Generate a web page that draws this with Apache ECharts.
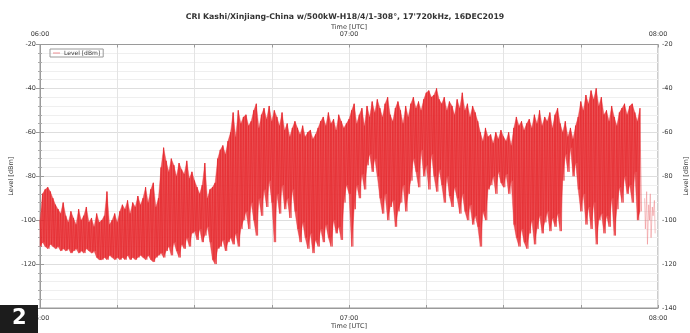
<!DOCTYPE html>
<html>
<head>
<meta charset="utf-8">
<script src="https://cdn.jsdelivr.net/npm/echarts@6/dist/echarts.min.js"></script>
<style>
  html, body { margin: 0; padding: 0; background: #fff; }
  #chart { width: 690px; height: 333px; }
</style>
</head>
<body>
<div id="chart"></div>
<script>
  // minutes after 06:00 UTC, one reading pair every half minute
  const binMinutes = 0.5;
  const timeTicks = [0, 60, 120];
  const timeLabels = ['06:00', '07:00', '08:00'];
  const levelTicks = [-140, -120, -100, -80, -60, -40, -20];

  // upper edge of the trace per half minute (dBm)
  const levelHigh = [
    -100, -88, -86, -85, -87, -90, -93, -95, -97, -92,
    -98, -101, -96, -99, -102, -95, -100, -98, -94, -101,
    -99, -103, -97, -101, -100, -98, -87, -102, -100, -97,
    -101, -96, -93, -95, -91, -97, -92, -94, -89, -93,
    -90, -85, -92, -86, -83, -94, -90, -76, -67, -73,
    -78, -72, -75, -80, -74, -77, -79, -73, -81, -78,
    -82, -85, -88, -84, -74, -90, -86, -85, -83, -72,
    -68, -66, -70, -64, -60, -51, -62, -50, -56, -53,
    -52, -57, -55, -50, -47, -58, -52, -49, -54, -48,
    -55, -50, -53, -57, -51, -59, -56, -62, -58, -55,
    -58, -61, -57, -62, -60, -59, -63, -61, -58, -55,
    -53, -57, -51, -56, -54, -59, -52, -55, -58, -56,
    -54, -50, -47, -56, -52, -49, -57, -48, -53, -46,
    -51, -45, -49, -53, -47, -44, -52, -55, -49, -46,
    -50, -56, -48, -53, -47, -44, -49, -46, -50, -45,
    -42, -41, -44, -43, -40, -45, -47, -44, -50, -46,
    -48, -52, -45, -49, -42, -50, -47, -53, -48, -51,
    -55, -60, -64, -58, -62, -61, -65, -60, -63, -59,
    -62, -64, -60, -66, -58, -53, -57, -55, -59, -56,
    -54, -58, -52, -56, -50, -57, -53, -55, -51, -58,
    -52, -49, -56, -60, -55, -62, -58, -63, -57, -53,
    -46, -50, -43, -47, -41, -45, -40, -48, -44, -52,
    -50, -55, -48, -53, -57, -51, -49, -47, -52, -48,
    -47, -51, -55, -49
  ];

  // lower edge of the trace per half minute (dBm)
  const levelLow = [
    -112, -110, -112, -113, -111, -112, -113, -112, -114, -113,
    -114, -113, -115, -114, -113, -115, -114, -115, -113, -114,
    -115, -114, -117, -118, -118, -117, -118, -116, -117, -118,
    -117, -118, -117, -118, -116, -118, -117, -118, -117, -116,
    -117, -118, -116, -118, -119, -117, -116, -115, -117, -114,
    -112, -116, -110, -114, -117, -111, -113, -108, -112, -106,
    -105, -109, -104, -110, -107, -103, -110, -118, -120, -113,
    -112, -109, -114, -110, -108, -111, -106, -112, -104, -100,
    -96, -104, -92, -100, -107, -90, -98, -86, -94, -82,
    -92, -110, -88, -97, -84, -95, -90, -99, -86, -96,
    -104, -110, -101, -108, -113, -106, -115, -109, -112, -104,
    -110, -102, -108, -112, -100, -106, -103, -109, -92, -84,
    -88, -112, -95, -84, -90, -79, -86, -75, -70, -78,
    -72, -80, -90, -97, -88, -100, -94, -91, -103, -96,
    -92, -84, -96, -88, -82, -72, -78, -85, -68, -80,
    -75, -86, -70, -80, -87, -77, -84, -92, -80, -89,
    -94, -85, -90, -97, -88, -96, -100, -93, -102, -98,
    -103, -112, -96, -100, -86, -84, -80, -88, -78, -83,
    -85, -79, -88, -82, -102, -108, -112, -104, -110, -113,
    -106, -100, -111, -104, -98, -106, -101, -96, -105, -99,
    -103, -97, -105, -82, -70, -78, -67, -80, -74, -86,
    -96, -88, -102, -94, -104, -92, -111, -100, -97, -106,
    -98, -103, -90, -107, -95, -85, -92, -80, -88, -84,
    -92, -78, -100, -96
  ];

  // sparse readings after the carrier drops out
  const tailTimes = [117.4, 117.8, 118.2, 118.5, 118.9, 119.3];
  const tailHigh = [-90, -87, -93, -88, -94, -91];
  const tailLow = [-104, -111, -100, -108, -98, -106];

  // zigzag through the readings, and one band segment per pair of neighbours
  let trace = [];
  let band = [];
  for (let i = 0; i < levelHigh.length; i++) {
    let t = i * binMinutes;
    trace.push([t, levelHigh[i]]);
    trace.push([t + binMinutes / 2, levelLow[i]]);
    if (i < levelHigh.length - 1) {
      band.push([t, levelHigh[i], levelLow[i], levelHigh[i + 1], levelLow[i + 1]]);
    }
  }
  let tail = [];
  for (let i = 0; i < tailTimes.length; i++) {
    tail.push([tailTimes[i], tailHigh[i]]);
    tail.push([tailTimes[i] + 0.15, tailLow[i]]);
  }

  function timeLabel (v) {
    let k = timeTicks.indexOf(v);
    return k >= 0 ? timeLabels[k] : '';
  }

  const red = '#e4252b';
  const txt = '#3a3a3a';
  const font = 'DejaVu Sans';

  let myChart = echarts.init(document.getElementById('chart'));
  let xBase = {
    type: 'value',
    min: 0,
    max: 120,
    interval: 15,
    name: 'Time [UTC]',
    nameLocation: 'middle',
    nameMoveOverlap: false,
    nameTextStyle: { color: txt, fontSize: 6.5, fontFamily: font },
    axisLine: { show: true, lineStyle: { color: '#9a9a9a', width: 1 } },
    axisTick: { show: true, inside: true, length: 3, lineStyle: { color: '#9a9a9a' } },
    axisLabel: { color: txt, fontSize: 6.5, fontFamily: font, formatter: timeLabel, showMinLabel: true, showMaxLabel: true }
  };
  let yBase = {
    type: 'value',
    min: levelTicks[0],
    max: levelTicks[levelTicks.length - 1],
    interval: 20,
    name: 'Level [dBm]',
    nameLocation: 'middle',
    nameRotate: 90,
    nameMoveOverlap: false,
    nameTextStyle: { color: txt, fontSize: 6.5, fontFamily: font },
    axisLine: { show: true, lineStyle: { color: '#9a9a9a', width: 1 } },
    axisTick: { show: true, inside: true, length: 4, lineStyle: { color: '#9a9a9a' } },
    minorTick: { show: true, splitNumber: 5, length: 2, lineStyle: { color: '#aaa' } },
    axisLabel: { color: txt, fontSize: 6.5, fontFamily: font, margin: 4 }
  };

  myChart.setOption({
    animation: false,
    backgroundColor: '#fff',
    title: {
      text: 'CRI Kashi/Xinjiang-China w/500kW-H18/4/1-308°, 17\'720kHz, 16DEC2019',
      left: 'center',
      top: 8,
      textStyle: { color: '#333', fontSize: 7.8, fontWeight: 'bold', fontFamily: font }
    },
    legend: {
      data: ['Level [dBm]'],
      left: 50,
      top: 49,
      orient: 'vertical',
      borderColor: '#9a9a9a',
      borderWidth: 1,
      padding: [1, 3, 1, 3],
      itemWidth: 7,
      itemHeight: 2,
      itemGap: 4,
      icon: 'rect',
      itemStyle: { color: 'rgba(228,37,43,0.25)' },
      textStyle: { color: txt, fontSize: 6, fontFamily: font, padding: [0, 0, 0, -1] }
    },
    grid: {
      left: 40,
      right: 32,
      top: 44.5,
      bottom: 25,
      containLabel: false,
      outerBoundsMode: 'none',
      show: true,
      borderColor: '#9a9a9a',
      borderWidth: 1
    },
    xAxis: [
      Object.assign({}, xBase, {
        position: 'bottom',
        nameGap: 15,
        axisLabel: Object.assign({}, xBase.axisLabel, { margin: 7 }),
        splitLine: { show: true, lineStyle: { color: '#e4e4e4', width: 1 } }
      }),
      Object.assign({}, xBase, {
        position: 'top',
        nameGap: 14,
        axisLabel: Object.assign({}, xBase.axisLabel, { margin: 7 }),
        splitLine: { show: false }
      })
    ],
    yAxis: [
      Object.assign({}, yBase, {
        position: 'left',
        nameGap: 25,
        splitLine: { show: true, lineStyle: { color: '#dedede', width: 1 } },
        minorSplitLine: { show: true, lineStyle: { color: '#efefef', width: 1 } }
      }),
      Object.assign({}, yBase, {
        position: 'right',
        nameGap: 25,
        splitLine: { show: false }
      })
    ],
    series: [
      {
        name: 'Level [dBm]',
        type: 'custom',
        data: band,
        itemStyle: { color: red },
        z: 2,
        renderItem: function (params, api) {
          let t = api.value(0);
          let a = api.coord([t, api.value(1)]);
          let b = api.coord([t + binMinutes, api.value(3)]);
          let c = api.coord([t + binMinutes, api.value(4)]);
          let d = api.coord([t, api.value(2)]);
          return {
            type: 'polygon',
            shape: { points: [a, b, c, d] },
            style: { fill: 'rgba(232,44,48,0.82)', stroke: 'rgba(232,44,48,0.82)', lineWidth: 0.4 }
          };
        }
      },
      {
        name: 'Level [dBm]',
        type: 'line',
        data: trace,
        showSymbol: false,
        sampling: null,
        lineStyle: { color: red, width: 0.8, opacity: 0.7 },
        z: 3
      },
      {
        name: 'tail',
        type: 'line',
        data: tail,
        showSymbol: false,
        lineStyle: { color: '#ec7c80', width: 0.8, opacity: 0.6 },
        z: 3
      }
    ],
    graphic: [
      { type: 'rect', left: 0, top: 305, shape: { width: 38, height: 28 }, style: { fill: '#1c1c1c' }, z: 100 },
      { type: 'text', left: 12, top: 308, style: { text: '2', fill: '#fff', font: 'bold 21px "DejaVu Sans"' }, z: 101 }
    ]
  });
</script>
</body>
</html>
